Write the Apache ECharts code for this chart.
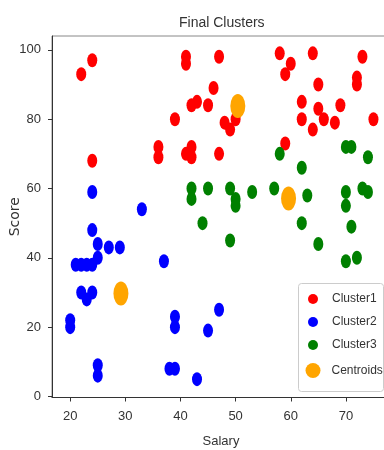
<!DOCTYPE html>
<html>
<head>
<meta charset="utf-8">
<script src="https://cdn.jsdelivr.net/npm/echarts@6/dist/echarts.min.js"></script>
<style>
  html, body { margin: 0; padding: 0; background: #fff; }
  #chart { width: 384px; height: 450px; }
</style>
</head>
<body>
<div id="chart"></div>
<script>
// [salary, score]
var cluster1 = [
  [22, 93], [24, 97], [24, 68], [36, 72], [36, 69], [39, 80], [41, 98], [41, 96],
  [41, 70], [42, 69], [42, 72], [42, 84], [43, 85], [45, 84], [46, 89], [47, 98],
  [48, 79], [49, 77], [50, 80], [47, 70], [58, 99], [60, 96], [59, 93], [64, 99],
  [73, 98], [72, 92], [72, 90], [65, 90], [62, 85], [62, 80], [65, 83], [66, 80],
  [64, 77], [68, 79], [69, 84], [75, 80], [59, 73]
];
var cluster2 = [
  [24, 59], [33, 54], [24, 48], [25, 44], [25, 40], [27, 43], [29, 43],
  [21, 38], [22, 38], [23, 38], [24, 38], [37, 39], [22, 30], [23, 28], [24, 30],
  [20, 22], [20, 20], [39, 23], [39, 20], [45, 19], [47, 25], [25, 9], [25, 6],
  [38, 8], [39, 8], [43, 5]
];
var cluster3 = [
  [58, 70], [70, 72], [71, 72], [74, 69], [42, 60], [42, 57], [45, 60], [44, 50],
  [62, 66], [49, 60], [50, 57], [50, 55], [53, 59], [57, 60], [63, 58], [62, 50],
  [65, 44], [49, 45], [70, 59], [70, 55], [73, 60], [74, 59], [71, 49], [72, 40],
  [70, 39]
];
var centroids = [[50.4, 83.8], [29.2, 29.7], [59.6, 57.1]];

var xTicks = [20, 30, 40, 50, 60, 70];
var yTicks = [0, 20, 40, 60, 80, 100];

var font = "'Liberation Sans', Arial, sans-serif";
var dot = 'path://M0,-1A1,1,0,1,1,0,1A1,1,0,1,1,0,-1Z';

function scatter(name, data, color, size) {
  return {
    name: name,
    type: 'scatter',
    data: data,
    symbol: dot,
    symbolSize: size,
    itemStyle: { color: color, opacity: 1 },
    emphasis: { disabled: true }
  };
}

var chart = echarts.init(document.getElementById('chart'));
chart.setOption({
  animation: false,
  title: {
    text: 'Final Clusters',
    left: 174,
    top: 11,
    textStyle: { fontFamily: font, fontSize: 14, fontWeight: 'normal', color: '#333' }
  },
  grid: {
    left: 52, top: 36, right: -6, bottom: 52.5,
    containLabel: false,
    outerBoundsMode: 'none',
    show: true, borderColor: '#888', borderWidth: 1
  },
  xAxis: {
    type: 'value',
    min: 16.7,
    max: 78,
    name: 'Salary',
    nameLocation: 'middle',
    nameGap: 37,
    nameMoveOverlap: false,
    nameTextStyle: { fontFamily: font, fontSize: 13, color: '#333' },
    axisLine: { show: true, onZero: false, lineStyle: { color: '#333' } },
    axisTick: { show: true, customValues: xTicks, length: 4, lineStyle: { color: '#333' } },
    axisLabel: { customValues: xTicks, margin: 12, fontFamily: font, fontSize: 13, color: '#333' },
    splitLine: { show: false }
  },
  yAxis: {
    type: 'value',
    min: -0.3,
    max: 104,
    name: 'Score',
    nameLocation: 'middle',
    nameGap: 30,
    nameMoveOverlap: false,
    nameTextStyle: { fontFamily: "'DejaVu Sans', sans-serif", fontSize: 14, color: '#333' },
    axisLine: { show: true, onZero: false, lineStyle: { color: '#333' } },
    axisTick: { show: true, customValues: yTicks, length: 4, lineStyle: { color: '#333' } },
    axisLabel: { customValues: yTicks, margin: 11, fontFamily: font, fontSize: 13, color: '#333' },
    splitLine: { show: false }
  },
  legend: [
    {
      data: ['Cluster1', 'Cluster2', 'Cluster3'],
      orient: 'vertical',
      left: 308, top: 293, padding: 0,
      itemWidth: 10, itemHeight: 14, itemGap: 11,
      icon: dot,
      selectedMode: false,
      textStyle: { fontFamily: font, fontSize: 12, color: '#333', padding: [0, 0, 0, 9] }
    },
    {
      data: ['Centroids'],
      orient: 'vertical',
      left: 305.5, top: 363, padding: 0,
      itemWidth: 15, itemHeight: 24,
      icon: dot,
      selectedMode: false,
      textStyle: { fontFamily: font, fontSize: 12, color: '#333', padding: [0, 0, 0, 6] }
    }
  ],
  graphic: [
    {
      type: 'rect', left: 298, top: 283, z: 3,
      shape: { width: 85, height: 108, r: 3 },
      style: { fill: 'rgba(255,255,255,0.8)', stroke: '#ccc', lineWidth: 1 }
    }
  ],
  series: [
    scatter('Cluster1', cluster1, '#ff0000', [10, 14]),
    scatter('Cluster2', cluster2, '#0000ff', [10, 14]),
    scatter('Cluster3', cluster3, '#008000', [10, 14]),
    scatter('Centroids', centroids, '#ffa500', [15, 24])
  ]
});
</script>
</body>
</html>
